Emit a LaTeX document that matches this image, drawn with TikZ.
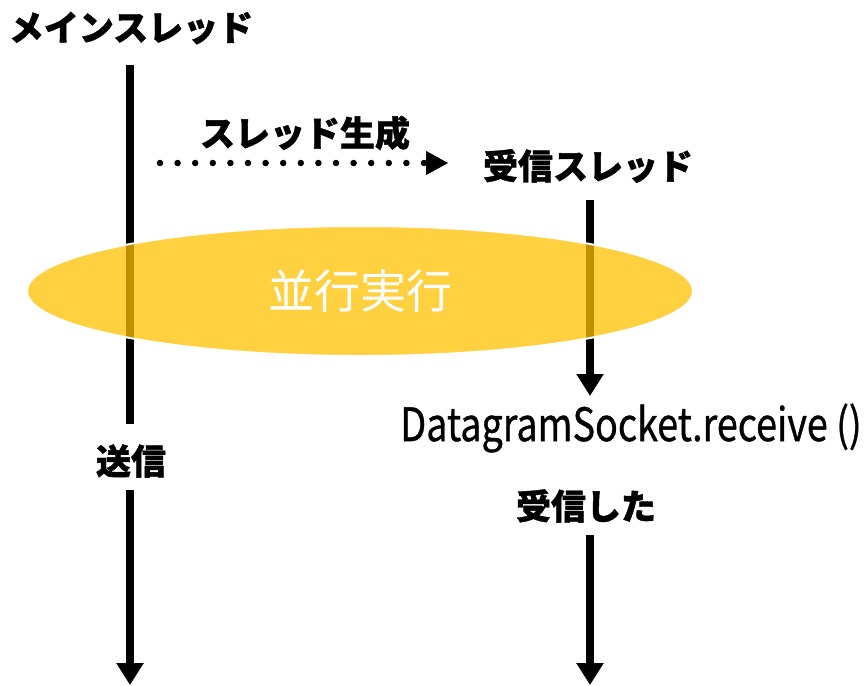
\documentclass[tikz,border=0pt]{standalone}
\usepackage{fontspec}
\setmainfont{Noto Sans CJK JP}
\newfontfamily\heavyjp{Noto Sans CJK JP}[FakeBold=1.2]
\newfontfamily\medjp{Noto Sans CJK JP}[FakeBold=0.8]
\usetikzlibrary{arrows.meta,shapes.geometric}
\definecolor{gold}{RGB}{255,192,0}
\tikzset{
  thread/.style={line width=7.5pt},
  tip/.style={-{Triangle[width=26pt,length=22pt]}},
  lbl/.style={font=\fontsize{35pt}{40pt}\selectfont\heavyjp\bfseries, inner sep=0pt},
}
\begin{document}
\begin{tikzpicture}[x=1pt,y=-1pt]
\useasboundingbox (0,0) rectangle (866,685);
% main thread
\node[lbl] (main) at (131,28) {メインスレッド};
\coordinate (mtop) at (130,65);
\node[lbl] (send) at (131,461) {送信};
\coordinate (mgap1) at (130,424);
\coordinate (mgap2) at (130,490);
\coordinate (mbot) at (130,685);
\draw[thread] (mtop) -- (mgap1);
\draw[thread,tip] (mgap2) -- (mbot);
% spawn
\node[lbl] (spawn) at (305,133) {スレッド生成};
\coordinate (sa) at (160,163);
\coordinate (sb) at (448,163);
\draw[line width=6.5pt, line cap=round, dash pattern=on 0pt off 17.6pt] (sa) -- (428,163);
\draw[line width=1pt, -{Triangle[width=24pt,length=22pt]}] (426,163) -- (sb);
% receive thread
\node[lbl] (recv) at (588,166) {受信スレッド};
\coordinate (rtop) at (590,200);
\coordinate (rmid) at (590,396);
\node[inner sep=0pt] (call) at (631,428) {\scalebox{0.82}[1]{\fontsize{46pt}{50pt}\selectfont\medjp DatagramSocket.receive ()}};
\node[lbl] (got) at (586,506) {受信した};
\coordinate (r2) at (590,535);
\coordinate (rbot) at (590,685);
\draw[thread,tip] (rtop) -- (rmid);
\draw[thread,tip] (r2) -- (rbot);
% parallel ellipse
\node[ellipse, minimum width=666pt, minimum height=130pt, fill=gold, fill opacity=0.75, text opacity=1, draw=white, line width=2pt, text=white, font=\fontsize{46pt}{50pt}\selectfont] (par) at (360,291) {並行実行};
\end{tikzpicture}
\end{document}
